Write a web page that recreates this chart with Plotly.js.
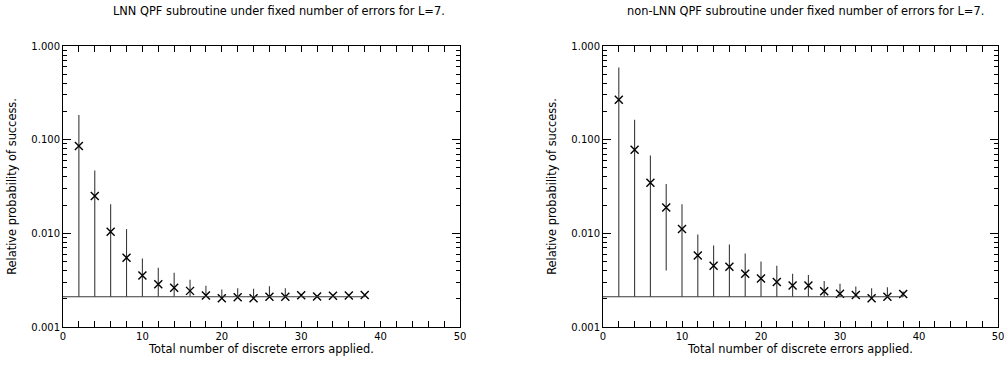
<!DOCTYPE html>
<html>
<head>
<meta charset="utf-8">
<script src="https://cdn.plot.ly/plotly-3.0.1.min.js"></script>
<style>html,body{margin:0;padding:0;background:#fff;}#chart{width:1007px;height:366px;}</style>
</head>
<body>
<div id="chart"></div>
<script>
// ---- data ----
const errorsApplied = [2,4,6,8,10,12,14,16,18,20,22,24,26,28,30,32,34,36,38];

const lnnProb  = [0.0855,0.0250,0.0104,0.0055,0.00354,0.00286,0.00262,0.00243,0.00217,0.00203,0.00208,0.00203,0.00210,0.00210,0.00218,0.00212,0.00216,0.00217,0.00220];
const lnnUpper = [0.183,0.047,0.0205,0.0111,0.0054,0.0043,0.0038,0.0032,0.00275,0.00252,0.00259,0.00256,0.00272,0.00260,0.00225,0.00215,0.00222,0.00222,0.00224];
const lnnLower = [0.0021,0.0021,0.0021,0.0021,0.0021,0.0021,0.0021,0.0021,0.0021,0.0021,0.0021,0.0021,0.0021,0.0021,0.0021,0.0021,0.0021,0.0021,0.0021];

const nonProb  = [0.267,0.078,0.0346,0.0189,0.0111,0.0058,0.0045,0.0044,0.0037,0.0033,0.00302,0.00278,0.00278,0.00241,0.00226,0.00220,0.00203,0.00210,0.00225];
const nonUpper = [0.59,0.163,0.0676,0.0336,0.0205,0.0097,0.0074,0.0076,0.0061,0.0050,0.0045,0.0037,0.0036,0.0031,0.0029,0.0027,0.0026,0.00265,0.0024];
const nonLower = [0.0021,0.0021,0.0021,0.0040,0.0021,0.0021,0.0021,0.0021,0.0021,0.0021,0.0021,0.0021,0.0021,0.0021,0.0021,0.0021,0.0021,0.0021,0.0021];

const baselineLevel = 0.0021;
const baselineX = [0, 38];

const titles = ["LNN QPF subroutine under fixed number of errors for L=7.",
                "non-LNN QPF subroutine under fixed number of errors for L=7."];
const xTitle = "Total number of discrete errors applied.";
const yTitle = "Relative probability of success.";
const yMajorTicks = [0.001, 0.01, 0.1, 1];
const yMinorDigits = [2,3,4,5,6,7,8,9];

// ---- build ----
const FONT = "DejaVu Sans, Verdana, sans-serif";
function errPlus(y, up){ return y.map((v,i)=>Math.max(0, up[i]-v)); }
function errMinus(y, lo){ return y.map((v,i)=>Math.max(0, v-lo[i])); }
const yMinorTicks = [];
yMajorTicks.slice(0,-1).forEach(d => yMinorDigits.forEach(k => yMinorTicks.push(d*k)));

function pointsTrace(y, up, lo, xa, ya){
  return {
    x: errorsApplied, y: y, xaxis: xa, yaxis: ya, type: 'scatter', mode: 'markers',
    marker: {symbol: 'x-thin', size: 8, color: '#000', line: {width: 1.4, color: '#000'}},
    error_y: {type: 'data', symmetric: false, array: errPlus(y, up), arrayminus: errMinus(y, lo),
              width: 0, thickness: 1.1, color: '#3a3a3a'},
    showlegend: false, hoverinfo: 'skip'
  };
}
function baseTrace(xa, ya){
  return {x: baselineX, y: baselineX.map(()=>baselineLevel), xaxis: xa, yaxis: ya,
          type:'scatter', mode:'lines', line:{color:'#3a3a3a', width:1.1},
          showlegend:false, hoverinfo:'skip'};
}

const data = [
  baseTrace('x','y3'), pointsTrace(lnnProb, lnnUpper, lnnLower, 'x', 'y'),
  baseTrace('x2','y4'), pointsTrace(nonProb, nonUpper, nonLower, 'x2', 'y2')
];

const W = 1007, H = 366;
const FS = 11.4;
const yDom = [(H-327)/H, (H-46)/H];
function xAxis(dom, anchor){
  return {domain: dom, anchor: anchor, range: [0,50], tick0: 0, dtick: 10,
    ticks: 'inside', ticklen: 6, tickwidth: 1, tickcolor: '#000',
    minor: {dtick: 2, ticks: 'inside', ticklen: 3, tickwidth: 1, tickcolor: '#000'},
    showline: true, linecolor: '#000', linewidth: 1, mirror: 'allticks',
    showgrid: false, zeroline: false, automargin: false,
    tickfont: {family: FONT, size: 10, color: '#000'},
    title: {text: xTitle, font: {family: FONT, size: FS, color: '#000'}, standoff: 1}};
}
function yAxis(anchor){
  return {domain: yDom, anchor: anchor, type: 'log', range: [-3, 0],
    tickmode: 'array', tickvals: yMajorTicks, ticktext: yMajorTicks.map(v=>v.toFixed(3)),
    ticks: 'inside', ticklen: 8, tickwidth: 1, tickcolor: '#000',
    showline: true, linecolor: '#000', linewidth: 1, mirror: 'allticks',
    showgrid: false, zeroline: false, automargin: false,
    tickfont: {family: FONT, size: 10, color: '#000'},
    title: {text: yTitle, font: {family: FONT, size: FS, color: '#000'}, standoff: 12}};
}
function yMinorAxis(over, anchor){
  return {overlaying: over, anchor: anchor, side: 'left', type: 'log', range: [-3, 0],
    tickmode: 'array', tickvals: yMinorTicks, showticklabels: false,
    ticks: 'inside', ticklen: 4, tickwidth: 1, tickcolor: '#000',
    showline: false, mirror: 'ticks', showgrid: false, zeroline: false, automargin: false};
}

const xd1 = [63/W, 460/W], xd2 = [603/W, 998/W];
const layout = {
  width: W, height: H, margin: {l:0, r:0, t:0, b:0},
  paper_bgcolor: '#fff', plot_bgcolor: '#fff',
  xaxis: xAxis(xd1, 'y'), yaxis: yAxis('x'),
  xaxis2: xAxis(xd2, 'y2'), yaxis2: yAxis('x2'),
  yaxis3: yMinorAxis('y', 'x'), yaxis4: yMinorAxis('y2', 'x2'),
  annotations: [
    {text: titles[0], xref: 'paper', yref: 'paper', x: (xd1[0]+xd1[1])/2 + 17/W, y: (H-11)/H,
     xanchor: 'center', yanchor: 'middle', showarrow: false, font: {family: FONT, size: FS, color: '#000'}},
    {text: titles[1], xref: 'paper', yref: 'paper', x: (xd2[0]+xd2[1])/2 + 5/W, y: (H-11)/H,
     xanchor: 'center', yanchor: 'middle', showarrow: false, font: {family: FONT, size: FS, color: '#000'}}
  ]
};

Plotly.newPlot('chart', data, layout, {displayModeBar: false, staticPlot: true});
</script>
</body>
</html>
